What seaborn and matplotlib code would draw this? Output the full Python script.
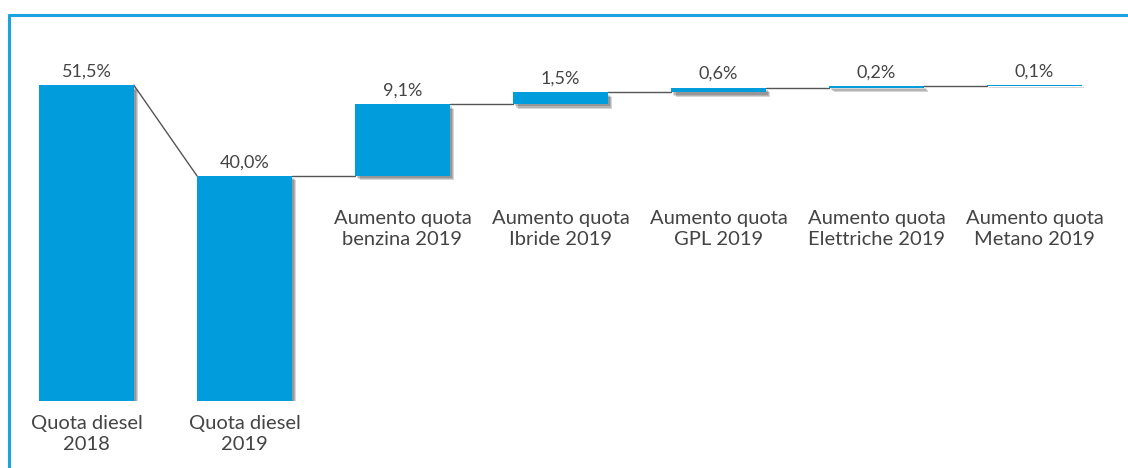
import matplotlib
matplotlib.use("Agg")
import matplotlib.pyplot as plt
import matplotlib.patheffects as pe
import matplotlib.transforms as mtransforms
from matplotlib.lines import Line2D
import seaborn as sns
import pandas as pd

# Diesel share 2018 -> 2019 and the share gained by each other fuel
categories = [
    "Quota diesel\n2018",
    "Quota diesel\n2019",
    "Aumento quota\nbenzina 2019",
    "Aumento quota\nIbride 2019",
    "Aumento quota\nGPL 2019",
    "Aumento quota\nElettriche 2019",
    "Aumento quota\nMetano 2019",
]
values = [51.5, 40.0, 9.1, 1.5, 0.6, 0.2, 0.1]
is_total = [True, True, False, False, False, False, False]
value_labels = ["51,5%", "40,0%", "9,1%", "1,5%", "0,6%", "0,2%", "0,1%"]

# waterfall bases: totals start at zero, increments stack on the running level
bases, tops = [], []
level = 0.0
for v, tot in zip(values, is_total):
    if tot:
        bases.append(0.0)
        level = v
    else:
        bases.append(level)
        level += v
    tops.append(bases[-1] + v)

df = pd.DataFrame({"cat": categories, "val": values})

sns.set_theme(style="white")
plt.rcParams["font.family"] = ["Lato", "DejaVu Sans"]

BLUE = "#009cdc"
FRAME = "#1aa3e0"
TEXT = "#444444"

fig = plt.figure(figsize=(11.28, 4.68), dpi=100)
ax = fig.add_axes([7.5 / 1128, 1 - 401 / 468, 1106 / 1128, 371 / 468])

sns.barplot(data=df, x="cat", y="val", order=categories, color=BLUE,
            saturation=1, width=0.6, bottom=bases, ax=ax, zorder=3,
            linewidth=0)

# soft drop shadow built from a few stacked offsets
shadow = [pe.SimplePatchShadow(offset=(k, -k), shadow_rgbFace="#000000", alpha=0.16)
          for k in (3.2, 2.4, 1.6)] + [pe.Normal()]
for p in ax.patches:
    p.set_path_effects(shadow)

ax.set_xlim(-0.5, len(categories) - 0.5)
ax.set_ylim(11.5, 58.5)
ax.axis("off")

# connector lines between consecutive bars
hw = 0.3
for i in range(len(values) - 1):
    y0 = tops[i]
    y1 = bases[i + 1] if not is_total[i + 1] else tops[i + 1]
    ax.plot([i + hw, i + 1 - hw], [y0, y1], color="#555555", lw=1.0, zorder=2)

# value labels above the bars
for i, (t, lab) in enumerate(zip(tops, value_labels)):
    ax.annotate(lab, (i, t), xytext=(0, 4), textcoords="offset points",
                ha="center", va="bottom", fontsize=13, color=TEXT)

# category labels
trans = mtransforms.blended_transform_factory(ax.transData, ax.transAxes)
for i, (lab, tot) in enumerate(zip(categories, is_total)):
    ypos = -0.089 if tot else 0.4636
    ax.text(i, ypos, lab, transform=trans, ha="center", va="center",
            fontsize=14.5, color=TEXT, linespacing=1.22, clip_on=False)

# blue frame along the top and left edges
fig.add_artist(Line2D([9 / 1128, 1.0], [1 - 15 / 468, 1 - 15 / 468],
                      transform=fig.transFigure, color=FRAME, lw=2.2))
fig.add_artist(Line2D([9 / 1128, 9 / 1128], [0.0, 1 - 15 / 468],
                      transform=fig.transFigure, color=FRAME, lw=2.2))

fig.savefig("out.png", dpi=100, facecolor="white")
